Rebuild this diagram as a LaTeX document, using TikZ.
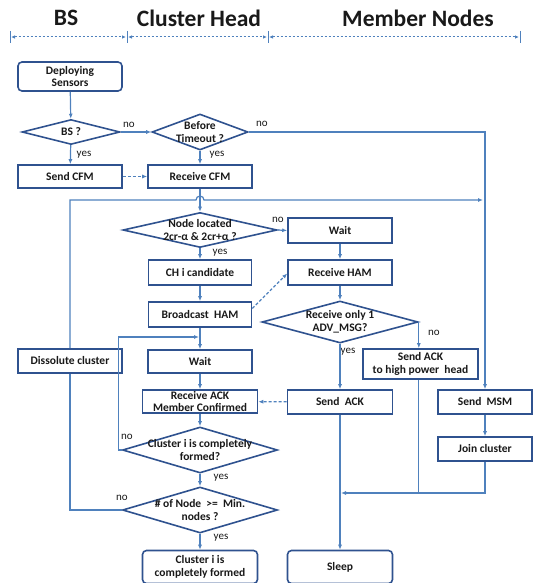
\documentclass[tikz,border=0pt]{standalone}
\usepackage{fontspec}
\setmainfont{Carlito}
\usetikzlibrary{arrows.meta,shapes.geometric,calc}
\definecolor{lnc}{RGB}{79,129,189}
\definecolor{bxc}{RGB}{47,82,143}
\definecolor{txc}{RGB}{25,25,25}
\begin{document}
\begin{tikzpicture}[x=1pt,y=-1pt,
  box/.style={rectangle, draw=bxc, line width=1.6pt, fill=white, inner sep=0pt, align=center,
    text=txc, font=\fontsize{11.5}{12.5}\selectfont\bfseries},
  rbox/.style={box, rounded corners=4pt},
  dia/.style={diamond, draw=bxc, line width=1.6pt, fill=white, inner sep=0pt},
  dtxt/.style={align=center, text=txc, font=\fontsize{11.5}{13}\selectfont\bfseries},
  lbl/.style={text=txc, font=\fontsize{11}{12}\selectfont, inner sep=0pt},
  hdr/.style={text=txc, font=\fontsize{23.5}{25}\selectfont\bfseries, inner sep=0pt},
  ln/.style={draw=lnc, line width=1.2pt},
  arr/.style={ln, -{Latex[length=5pt,width=4pt]}},
  darr/.style={arr, dash pattern=on 3pt off 2pt},
  hdash/.style={draw=lnc, line width=1pt, dash pattern=on 2.5pt off 1.5pt,
    {Latex[length=4pt,width=3.5pt]}-{Latex[length=4pt,width=3.5pt]}},
  tick/.style={draw=lnc, line width=1pt}
]
\useasboundingbox (0,0) rectangle (538,583);

% headers
\node[hdr] (hBS) at (66,18) {BS};
\node[hdr] (hCH) at (199,18) {Cluster Head};
\node[hdr] (hMN) at (418,18) {Member Nodes};
\coordinate (t0) at (10,37);
\coordinate (t1) at (127,37);
\coordinate (t2) at (268,37);
\coordinate (t3) at (520,37);
\foreach \t in {t0,t1,t2,t3}{\draw[tick] ($(\t)+(0,-6)$) -- ($(\t)+(0,6)$);}
\draw[hdash] ($(t0)+(1,0)$) -- ($(t1)+(-1,0)$);
\draw[hdash] ($(t1)+(1,0)$) -- ($(t2)+(-1,0)$);
\draw[hdash] ($(t2)+(1,0)$) -- ($(t3)+(-1,0)$);

% nodes
\node[rbox, minimum width=104pt, minimum height=29pt] (dep) at (70,76.5) {Deploying\\Sensors};
\node[dia, minimum width=98pt, minimum height=25pt, label={[dtxt]center:BS ?}] (bs) at (71,132) {};
\node[dia, minimum width=96pt, minimum height=36pt, label={[dtxt]center:{Before\\Timeout ?}}] (tmo) at (200,132) {};
\node[box, minimum width=104pt, minimum height=23pt] (scfm) at (70,176.5) {Send CFM};
\node[box, minimum width=104pt, minimum height=23pt] (rcfm) at (200,176.5) {Receive CFM};
\node[dia, minimum width=154pt, minimum height=35pt, label={[dtxt]center:{Node located\\2cr-α \& 2cr+α ?}}] (nloc) at (200,230) {};
\node[box, minimum width=104pt, minimum height=25pt] (wait2) at (340,230.5) {Wait};
\node[box, minimum width=103pt, minimum height=25pt] (chc) at (200,272.5) {CH i candidate};
\node[box, minimum width=104pt, minimum height=25pt] (rham) at (340,272.5) {Receive HAM};
\node[box, minimum width=103pt, minimum height=25pt] (bham) at (200,314.5) {Broadcast\ \ HAM};
\node[dia, minimum width=156pt, minimum height=42pt, label={[dtxt]center:{Receive only 1\\ADV\_MSG?}}] (radv) at (340,322) {};
\node[box, minimum width=115pt, minimum height=30pt] (sackh) at (420.5,364) {Send ACK\\to high power\ \ head};
\node[box, minimum width=104pt, minimum height=24pt] (diss) at (70,361) {Dissolute cluster};
\node[box, minimum width=104pt, minimum height=23pt] (wait1) at (200,361.5) {Wait};
\node[box, minimum width=115pt, minimum height=23pt, font=\fontsize{11.5}{12}\selectfont\bfseries] (rack) at (200,401.5) {Receive ACK\\Member Confirmed};
\node[box, minimum width=105pt, minimum height=24pt] (sack) at (340,402) {Send\ \ ACK};
\node[box, minimum width=94pt, minimum height=24pt] (smsm) at (485,402) {Send\ \ MSM};
\node[box, minimum width=94pt, minimum height=24pt] (join) at (485,449) {Join cluster};
\node[dia, minimum width=155pt, minimum height=46pt, label={[dtxt]center:{Cluster i is completely\\formed?}}] (ccf) at (200,450) {};
\node[dia, minimum width=155pt, minimum height=46pt, label={[dtxt]center:{\# of Node\ \ >=\ \ Min.\\nodes ?}}] (nnode) at (200,510) {};
\node[rbox, minimum width=115pt, minimum height=33pt] (final) at (200,567) {Cluster i is\\completely formed};
\node[rbox, minimum width=105pt, minimum height=33pt] (sleep) at (340,567) {Sleep};

% labels
\node[lbl] (l1) at (129,125) {no};
\node[lbl] (l2) at (262,124) {no};
\node[lbl] (l3) at (84,155) {yes};
\node[lbl] (l4) at (217,155) {yes};
\node[lbl] (l5) at (278,220) {no};
\node[lbl] (l6) at (220,253) {yes};
\node[lbl] (l7) at (434,333) {no};
\node[lbl] (l8) at (348,352) {yes};
\node[lbl] (l9) at (127,437) {no};
\node[lbl] (l10) at (221,478) {yes};
\node[lbl] (l11) at (122,498) {no};
\node[lbl] (l12) at (221,538) {yes};

% junction coordinates
\coordinate (hop) at (200,200);
\coordinate (mjoin) at (483,200);
\coordinate (bwj) at (199,337);
\coordinate (mrg) at (341,493);

% connectors
\draw[arr] (dep) -- (bs);
\draw[arr] (bs) -- (tmo);
\draw[arr] (bs) -- (scfm);
\draw[arr] (tmo) -- (rcfm);
\draw[darr] (scfm) -- (rcfm);
\draw[arr] (tmo.east) -| (smsm.north);
\draw[arr] (diss.north) |- ($(hop)+(-4,0)$) arc[start angle=180, end angle=360, radius=4] -- (mjoin);
\draw[arr] (rcfm) -- (nloc);
\draw[ln] (nnode.west) -| (diss.south);
\draw[arr] (nloc.east) -- (wait2.west);
\draw[arr] (nloc) -- (chc);
\draw[arr] (wait2) -- (rham);
\draw[arr] (chc) -- (bham);
\draw[darr] ($(bham.east)+(0,-6)$) -- ($(rham.west)+(0,1)$);
\draw[arr] (rham) -- (radv);
\draw[arr] (bham) -- (wait1);
\draw[arr] (wait1) -- (rack);
\draw[arr] (rack) -- (ccf);
\draw[arr] (ccf) -- (nnode);
\draw[arr] (nnode) -- (final);
\draw[arr] (ccf.west) -- ++(-3,0) |- (bwj);
\draw[arr] (radv.east) -- (radv.east |- sackh.north);
\draw[arr] (radv) -- (sack);
\draw[darr] (sack) -- (rack);
\draw[arr] (smsm) -- (join);
\draw[arr] (join.south) |- (mrg);
\draw[ln] (radv.east |- sackh.south) -- (radv.east |- mrg);
\draw[arr] (sack) -- (sleep);
\end{tikzpicture}
\end{document}
